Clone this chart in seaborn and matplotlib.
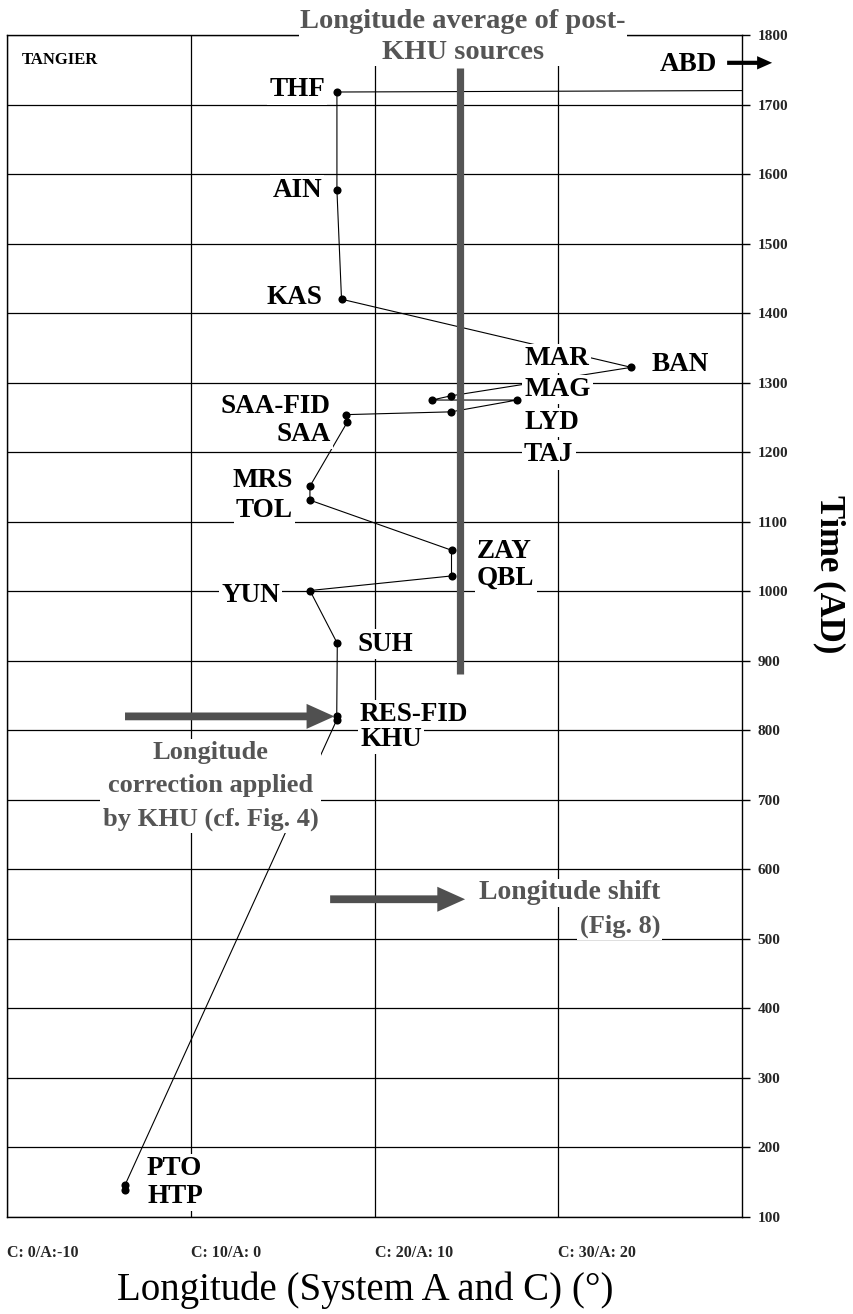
import matplotlib
matplotlib.use("Agg")
import matplotlib.pyplot as plt
import seaborn as sns
import pandas as pd

# ---------------- data ----------------
sources = ["ABD", "THF", "AIN", "KAS", "BAN", "MAR", "MAG", "LYD", "TAJ",
           "SAA-FID", "SAA", "MRS", "TOL", "ZAY", "QBL", "YUN", "SUH",
           "RES-FID", "KHU", "PTO", "HTP"]
longitude = [60.0, 17.94, 17.94, 18.19, 33.97, 24.14, 23.12, 27.75, 24.15,
             18.44, 18.50, 16.47, 16.47, 24.18, 24.18, 16.47, 17.96,
             17.93, 17.93, 6.40, 6.40]
year = [1722, 1718, 1577, 1420, 1322, 1281, 1275, 1275, 1258,
        1254, 1243, 1151, 1131, 1059, 1022, 1001, 925,
        821, 815, 146, 139]

x_ticks = [0, 10, 20, 30]
x_tick_labels = ["C: 0/A:-10", "C: 10/A: 0", "C: 20/A: 10", "C: 30/A: 20"]
y_ticks = list(range(100, 1801, 100))

post_khu_average = 24.65
post_khu_span = (881, 1752)

df = pd.DataFrame({"source": sources, "lon": longitude, "year": year})

# ---------------- style ----------------
sns.set_theme(style="white")
plt.rcParams["font.family"] = ["Liberation Serif", "DejaVu Serif"]
plt.rcParams["axes.edgecolor"] = "black"
plt.rcParams["axes.linewidth"] = 1.0

W, H = 854, 1314
fig = plt.figure(figsize=(W / 100, H / 100), dpi=100)
ax = fig.add_axes([7.5 / W, 1 - 1217 / H, (742 - 7.5) / W, (1217 - 35) / H])

ax.set_xlim(0, 40)
ax.set_ylim(100, 1800)
ax.set_xticks(x_ticks)
ax.set_xticklabels(x_tick_labels, ha="left", fontweight="bold", fontsize=11.5)
ax.set_yticks(y_ticks)
ax.set_yticklabels([str(v) for v in y_ticks], fontweight="bold", fontsize=11)
ax.yaxis.tick_right()
ax.tick_params(axis="x", length=0, pad=20)
ax.tick_params(axis="y", length=6, width=1.0, pad=5, direction="out", color="black")
ax.grid(True, color="black", lw=0.9, zorder=0.5)
ax.set_axisbelow(True)
for s in ax.spines.values():
    s.set_visible(True)
    s.set_color("black")

# path
sns.lineplot(data=df, x="lon", y="year", sort=False, estimator=None,
             color="black", lw=0.8, ax=ax, zorder=2)
sns.scatterplot(data=df[df["source"] != "ABD"], x="lon", y="year",
                color="black", s=34, edgecolor="black", linewidth=0,
                ax=ax, zorder=4)
ax.set_xlabel("")
ax.set_ylabel("")

# thick average bar
ax.plot([post_khu_average, post_khu_average], post_khu_span,
        color="#555555", lw=5.2, solid_capstyle="butt", zorder=3)

# ---------------- labels ----------------
box = dict(facecolor="white", edgecolor="none", pad=1.5)
lab_fs = 19.5
label_layout = {
    "THF": (17.29, 1721, "right"),
    "AIN": (17.13, 1577, "right"),
    "KAS": (17.13, 1423, "right"),
    "MAR": (28.13, 1335, "left"),
    "BAN": (35.08, 1326, "left"),
    "MAG": (28.13, 1290, "left"),
    "LYD": (28.13, 1243, "left"),
    "TAJ": (28.13, 1196, "left"),
    "SAA-FID": (17.6, 1266, "right"),
    "SAA": (17.6, 1225, "right"),
    "MRS": (15.55, 1159, "right"),
    "TOL": (15.55, 1116, "right"),
    "ZAY": (25.57, 1057, "left"),
    "QBL": (25.57, 1018, "left"),
    "YUN": (14.84, 994, "right"),
    "SUH": (19.04, 924, "left"),
    "RES-FID": (19.2, 823, "left"),
    "KHU": (19.2, 787, "left"),
    "PTO": (7.6, 170, "left"),
    "HTP": (7.6, 130, "left"),
    "ABD": (38.64, 1757, "right"),
}
for name, (lx, ly, ha) in label_layout.items():
    ax.text(lx, ly, name, ha=ha, va="center", fontsize=lab_fs, fontweight="bold",
            color="black", bbox=box, zorder=5, clip_on=False)

ax.text(0.8, 1764, "TANGIER", ha="left", va="center", fontsize=12,
        fontweight="bold", color="black", zorder=5)

grey = "#555555"
ax.text(24.8, 1797, "Longitude average of post-\nKHU sources", ha="center",
        va="center", fontsize=20.5, fontweight="bold", color=grey,
        linespacing=1.3, bbox=dict(facecolor="white", edgecolor="none", pad=1),
        zorder=6, clip_on=False)

ax.text(11.06, 720, "Longitude\ncorrection applied\nby KHU (cf. Fig. 4)",
        ha="center", va="center", fontsize=19, fontweight="bold", color=grey,
        linespacing=1.55, bbox=dict(facecolor="white", edgecolor="none", pad=2),
        zorder=5)

ax.text(35.54, 566, "Longitude shift", ha="right", va="center", fontsize=20,
        fontweight="bold", color=grey, bbox=box, zorder=5)
ax.text(35.54, 518, "(Fig. 8)", ha="right", va="center", fontsize=19,
        fontweight="bold", color=grey, bbox=box, zorder=5)

# arrows
big = dict(arrowstyle="simple,head_length=1.0,head_width=0.9,tail_width=0.28",
           color="#505050", mutation_scale=20, shrinkA=0, shrinkB=0, lw=0)
ax.annotate("", xy=(17.8, 820), xytext=(6.4, 820), arrowprops=big, zorder=6)
ax.annotate("", xy=(24.92, 557), xytext=(17.57, 557), arrowprops=big, zorder=6)
small = dict(arrowstyle="simple,head_length=0.9,head_width=0.8,tail_width=0.25",
             color="black", mutation_scale=12, shrinkA=0, shrinkB=0, lw=0)
ax.annotate("", xy=(41.64, 1760), xytext=(39.19, 1760), arrowprops=small,
            annotation_clip=False, zorder=6)

# axis titles
fig.text(365 / W, 1 - 1290 / H, "Longitude (System A and C) (°)", ha="center",
         va="center", fontsize=28, color="black")
fig.text(829 / W, 1 - 574 / H, "Time (AD)", ha="center", va="center",
         rotation=270, fontsize=25, fontweight="bold", color="black")

fig.savefig("out.png", dpi=100, facecolor="white")
